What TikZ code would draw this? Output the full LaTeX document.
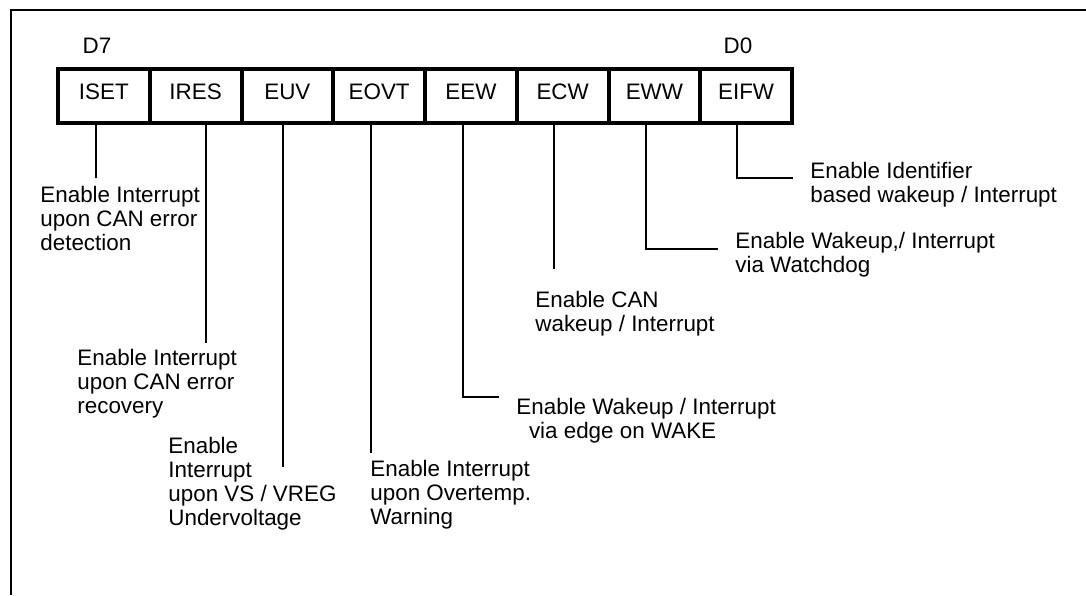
\documentclass[tikz,border=0pt]{standalone}
\usepackage{fontspec}
\setmainfont{Liberation Sans}

\begin{document}
\begin{tikzpicture}[x=0.5pt,y=-0.5pt,
  font=\fontsize{11.2pt}{12pt}\selectfont,
  bitbox/.style={draw,line width=2pt,minimum width=45.875pt,minimum height=27pt,
    inner sep=0pt,text height=8pt,text depth=4.7pt},
  wire/.style={line width=1.1pt},
  desc/.style={align=left,inner sep=0pt,anchor=north west}]
 \useasboundingbox (0,0) rectangle (1086,595);
 \draw[line width=0.8pt] (1086,10) -- (11,10) -- (11,595);

 % register bits D7 ... D0
 \foreach \n/\t [count=\i] in
  {
    iset/ISET, ires/IRES, euv/EUV, eovt/EOVT,
    eew/EEW, ecw/ECW, eww/EWW, eifw/EIFW
  }
  {
    \node[bitbox] (\n) at ({58+91.75*(\i-0.5)},95.7) {\t};
  }
 \node[anchor=base] (msb) at (97,53) {D7};
 \node[anchor=base] (lsb) at (738,53) {D0};

 % descriptions
 \node[desc] (isetTxt) at (40,186) {Enable Interrupt\\upon CAN error\\detection};
 \node[desc] (iresTxt) at (77,349) {Enable Interrupt\\upon CAN error\\recovery};
 \node[desc] (euvTxt) at (168,437) {Enable\\Interrupt\\upon VS / VREG\\Undervoltage};
 \node[desc] (eovtTxt) at (370,460) {Enable Interrupt\\upon Overtemp.\\Warning};
 \node[desc] (eewTxt) at (516,398) {Enable Wakeup / Interrupt\\\hspace*{6.3pt}via edge on WAKE};
 \node[desc] (ecwTxt) at (535,291) {Enable CAN\\wakeup / Interrupt};
 \node[desc] (ewwTxt) at (735,232) {Enable Wakeup,/ Interrupt\\via Watchdog};
 \node[desc] (eifwTxt) at (810,162) {Enable Identifier\\based wakeup / Interrupt};

 % connector ends
 \coordinate (isetEnd) at (96,178);
 \coordinate (iresEnd) at (206,343);
 \coordinate (euvEnd) at (283,467);
 \coordinate (eovtEnd) at (371,453);
 \coordinate (eewBend) at (463,397);
 \coordinate (ecwEnd) at (554,269);
 \coordinate (ewwBend) at (646,249);
 \coordinate (eifwBend) at (737,178);

 \foreach \n in {iset,ires,euv,eovt,ecw}
   \draw[wire] (\n.south -| \n End) -- (\n End);
 \foreach \n in {eew,eww,eifw}
   \draw[wire] (\n.south -| \n Bend) -- (\n Bend) -- ([xshift=-8.5pt]\n Txt.west |- \n Bend);
\end{tikzpicture}
\end{document}
